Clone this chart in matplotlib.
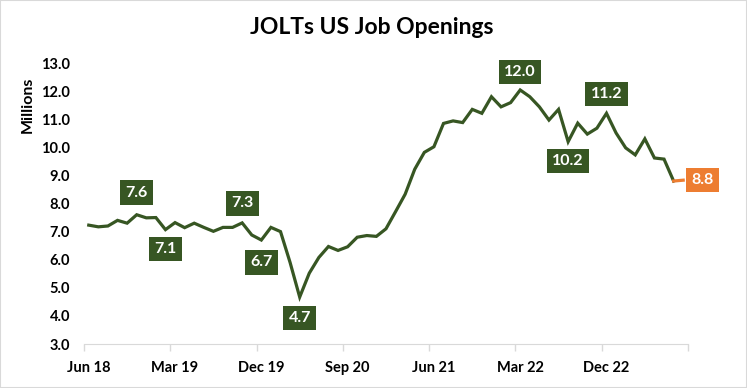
import matplotlib
matplotlib.use("Agg")
import matplotlib.pyplot as plt
from matplotlib.patches import Rectangle
import pandas as pd

plt.rcParams['font.family'] = ['Lato', 'DejaVu Sans']
plt.rcParams['font.weight'] = 'bold'

# job openings, millions, Jun 2018 .. Jul 2023
openings_2018 = [7.23, 7.17, 7.20, 7.40, 7.30, 7.60, 7.49]
openings_2019 = [7.50, 7.07, 7.32, 7.14, 7.30, 7.15, 7.01, 7.15, 7.15, 7.31, 6.88, 6.70]
openings_2020 = [7.15, 7.00, 5.90, 4.67, 5.52, 6.08, 6.47, 6.33, 6.46, 6.80, 6.86, 6.83]
openings_2021 = [7.10, 7.71, 8.33, 9.22, 9.82, 10.02, 10.85, 10.94, 10.88, 11.35, 11.21, 11.80]
openings_2022 = [11.44, 11.59, 12.04, 11.80, 11.44, 10.97, 11.35, 10.20, 10.86, 10.47, 10.68, 11.21]
openings_2023 = [10.51, 9.98, 9.73, 10.30, 9.62, 9.58, 8.80]
latest = [8.80, 8.83]   # orange tail, Jul-Aug 23

openings = openings_2018 + openings_2019 + openings_2020 + openings_2021 + openings_2022 + openings_2023
months = pd.date_range('2018-06-01', periods=len(openings) + 1, freq='MS')
month_labels = [m.strftime('%b %y') for m in months]

# points that get a value box: (index, offset in points)
callouts = [(5, 16), (8, -14), (16, 14), (18, -16), (22, -15), (45, 13), (50, -14), (54, 14)]

green = '#375623'
orange = '#ED7D31'

fig = plt.figure(figsize=(7.47, 3.88), dpi=100)
ax = fig.add_axes([0.1124, 0.1134, 0.8086, 0.7242])

x = list(range(len(openings)))
ax.plot(x, openings, color=green, lw=2.3, solid_joinstyle='miter')
x_last = [len(openings) - 1, len(openings)]
ax.plot(x_last, latest, color=orange, lw=2.3)

for i, dy in callouts:
    ax.annotate('%.1f' % openings[i], (x[i], openings[i]), xytext=(0, dy),
                textcoords='offset points', ha='center', va='center',
                color='white', fontsize=11.5, fontweight='bold',
                bbox=dict(boxstyle='square,pad=0.33', fc=green, ec='none'))

ax.annotate('%.1f' % latest[-1], (x_last[-1], latest[-1]), xytext=(6, 0),
            textcoords='offset points', ha='left', va='center',
            color='white', fontsize=11.5, fontweight='bold',
            bbox=dict(boxstyle='square,pad=0.33', fc=orange, ec='none'))

ax.set_xlim(-0.5, len(months) - 0.5)
ax.set_ylim(3, 13)
ax.set_yticks(range(3, 14))
ax.set_yticklabels(['%.1f' % v for v in range(3, 14)], fontsize=10.5, fontweight='bold')
ax.tick_params(axis='y', length=0, pad=10)

ax.set_xticks([k - 0.5 for k in range(0, len(months) + 1, 9)])
ax.set_xticklabels([])
ax.tick_params(axis='x', which='major', length=5, color='#D9D9D9', width=1)
ax.set_xticks(range(0, len(months) - 1, 9), minor=True)
ax.set_xticklabels([month_labels[k] for k in range(0, len(months) - 1, 9)], minor=True,
                   fontsize=10.5, fontweight='bold')
ax.tick_params(axis='x', which='minor', length=0, pad=12)

for s in ['left', 'top', 'right']:
    ax.spines[s].set_visible(False)
ax.spines['bottom'].set_color('#D9D9D9')

fig.text(0.498, 0.93, 'JOLTs US Job Openings', ha='center', va='center',
         fontsize=16.5, fontweight='bold')
fig.text(0.037, 0.73, 'Millions', rotation=90, ha='center', va='center',
         fontsize=11.5, fontweight='bold')

fig.patches.append(Rectangle((0, 0), 1, 1, transform=fig.transFigure, fill=False,
                             edgecolor='#D9D9D9', lw=1.5))

fig.savefig('out.png', dpi=100)
